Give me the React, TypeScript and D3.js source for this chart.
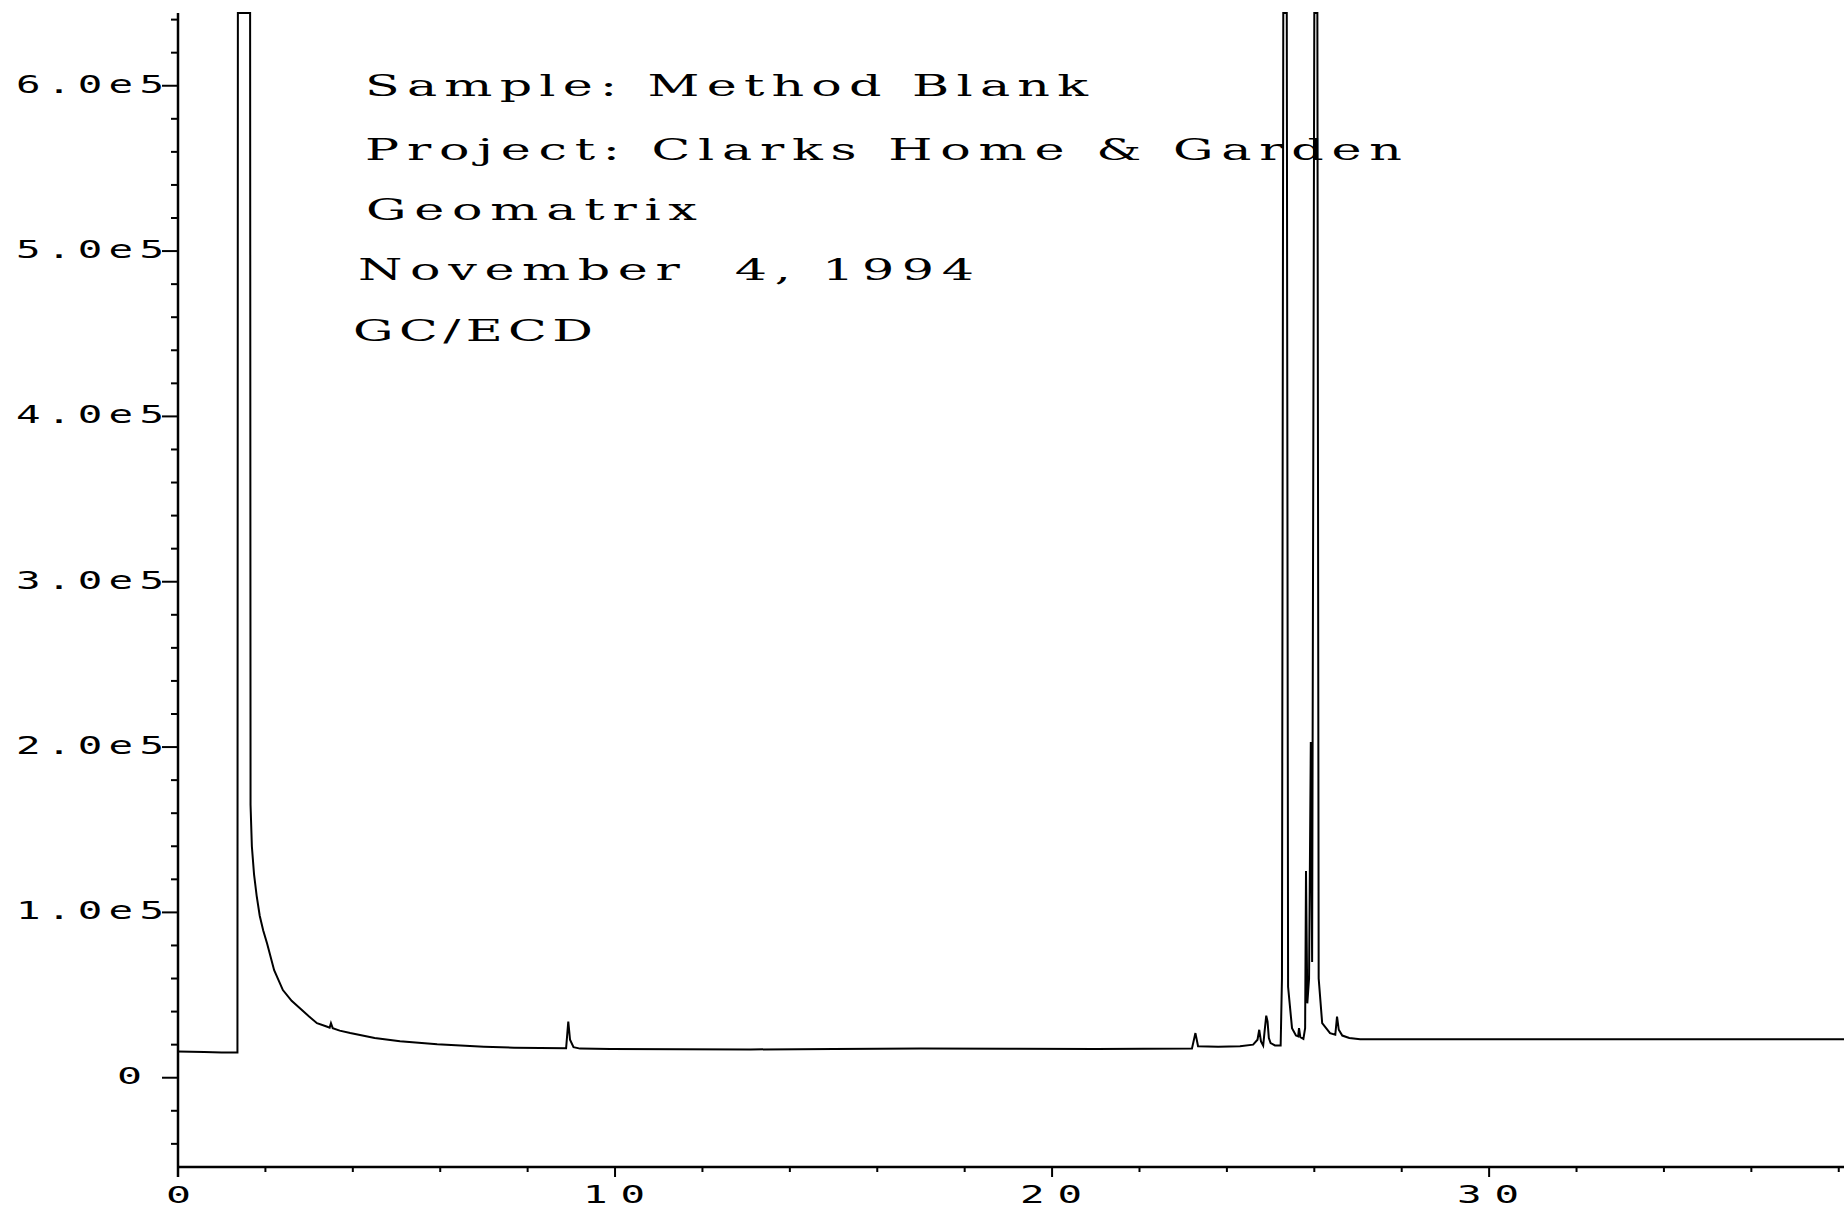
import React from "react";
import * as d3 from "d3";

// chromatogram trace (retention time in min, detector counts)
// values above the top of the plot are offscale, they get clamped flat like the plotter did
const retentionTimes = [
  0.0, 0.6, 1.0, 1.36, 1.37, 1.65, 1.66, 1.69, 1.74, 1.8, 1.87, 1.95, 2.04, 2.2, 2.4, 2.6, 2.79,
  3.0, 3.18, 3.4, 3.47, 3.5, 3.54, 3.7, 3.94, 4.5, 5.08, 5.93, 7.0, 7.69, 8.88, 8.93, 8.97,
  9.05, 9.2, 9.89, 11.5, 13.1, 15.0, 17.0, 19.0, 21.0, 23.2, 23.28, 23.34, 23.8, 24.3, 24.6,
  24.7, 24.74, 24.78, 24.83, 24.87, 24.9, 24.93, 24.96, 25.0, 25.1, 25.23, 25.26, 25.29,
  25.37, 25.4, 25.49, 25.58, 25.63, 25.65, 25.68, 25.75, 25.79, 25.81, 25.84, 25.88, 25.92,
  25.95, 26.0, 26.07, 26.1, 26.18, 26.36, 26.48, 26.52, 26.56, 26.64, 26.8, 27.05, 30.0,
  34.0, 38.2,
];
const detectorSignal = [
  15800, 15600, 15300, 15200, 900000, 900000, 165000, 140000, 123000, 110000, 98000, 89000, 81000,
  65000, 53000, 46500, 42000, 37000, 33000, 31000, 30300, 33000, 30000, 28500, 27000, 24000,
  22000, 20200, 18800, 18200, 17800, 34000, 23000, 18500, 17600, 17400, 17200, 17100, 17400,
  17600, 17500, 17300, 17600, 27000, 19000, 18800, 19000, 20000, 23000, 29000, 22000, 19500,
  30000, 37500, 34000, 24000, 21000, 19500, 19500, 60000, 900000, 900000, 55000, 30000,
  25500, 25000, 30000, 24500, 23500, 30000, 125000, 45000, 60000, 203000, 70000, 900000,
  900000, 60000, 33000, 27000, 26000, 37000, 29000, 25500, 24000, 23200, 23200, 23300, 23300,
];

const yMajorTicks = [0, 100000, 200000, 300000, 400000, 500000, 600000];
const yTickLabels = ["0", "1.0e5", "2.0e5", "3.0e5", "4.0e5", "5.0e5", "6.0e5"];
const xMajorTicks = [0, 10, 20, 30];
const xTickLabels = ["0", "10", "20", "30"];

const headerLines = [
  "Sample: Method Blank",
  "Project: Clarks Home & Garden",
  "Geomatrix",
  "November  4, 1994",
  "GC/ECD",
];
// where each header line sits and how wide it runs
const headerX = [365, 365, 366, 358, 353];
const headerY = [96, 160, 220, 280, 341];
const headerWidth = [723, 1037, 331, 616, 240];

const W = 1844;
const H = 1213;
const left = 178;
const top = 13;
const bottom = 1167;

const numFont = "'DejaVu Sans Mono', monospace";
const NUM_SX = 1.7; // plotter digits are wide and squat
const HEAD_SX = 1.75;

// one stretched label, anchored at its left edge
function WideText(props: {
  x: number;
  y: number;
  sx: number;
  width: number;
  size: number;
  font: string;
  adjust: string;
  children: string;
}) {
  const { x, y, sx, width, size, font, adjust, children } = props;
  return (
    <g transform={`translate(${x}, ${y}) scale(${sx}, 1)`}>
      <text
        x={0}
        y={0}
        fontFamily={font}
        fontSize={size}
        textLength={width / sx}
        lengthAdjust={adjust}
        style={{ whiteSpace: "pre" }}
      >
        {children}
      </text>
    </g>
  );
}

export default function App() {
  const x = d3.scaleLinear().domain([0, 38.12]).range([left, W]);
  const y = d3.scaleLinear().domain([-54000, 644000]).range([bottom, top]).clamp(true);

  const yMinor = d3.range(-40000, 650000, 20000).filter((v) => v % 100000 !== 0);
  const xMinor = d3.range(2, 39, 2).filter((v) => v % 10 !== 0);

  const path = d3
    .line<number>()
    .x((d, i) => x(retentionTimes[i]))
    .y((d) => y(d))(detectorSignal);

  return (
    <svg
      width={W}
      height={H}
      style={{ position: "absolute", left: 0, top: 0, display: "block", background: "#fff" }}
    >
      <defs>
        <clipPath id="plot">
          <rect x={left} y={top - 1} width={W - left} height={bottom - top + 1} />
        </clipPath>
      </defs>

      {/* trace */}
      <path d={path || ""} fill="none" stroke="#000" strokeWidth={2} clipPath="url(#plot)" />

      {/* y axis */}
      <line x1={left} x2={left} y1={top} y2={bottom + 10} stroke="#000" strokeWidth={2.5} />
      {yMinor.map((v) => (
        <line key={"ym" + v} x1={left - 7} x2={left} y1={y(v)} y2={y(v)} stroke="#000" strokeWidth={2} />
      ))}
      {yMajorTicks.map((v, i) => (
        <g key={"yM" + v}>
          <line x1={left - 16} x2={left} y1={y(v)} y2={y(v)} stroke="#000" strokeWidth={2} />
          {yTickLabels[i] === "0" ? (
            <WideText x={117} y={y(v) + 6} sx={NUM_SX} width={25} size={23} font={numFont} adjust="spacingAndGlyphs">
              {yTickLabels[i]}
            </WideText>
          ) : (
            <WideText x={16} y={y(v) + 7} sx={NUM_SX} width={148} size={24} font={numFont} adjust="spacing">
              {yTickLabels[i]}
            </WideText>
          )}
        </g>
      ))}

      {/* x axis */}
      <line x1={left} x2={W} y1={bottom} y2={bottom} stroke="#000" strokeWidth={2.5} />
      {xMinor.map((v) => (
        <line key={"xm" + v} x1={x(v)} x2={x(v)} y1={bottom} y2={bottom + 5} stroke="#000" strokeWidth={2} />
      ))}
      {xMajorTicks.map((v, i) => (
        <g key={"xM" + v}>
          <line x1={x(v)} x2={x(v)} y1={bottom} y2={bottom + 10} stroke="#000" strokeWidth={2} />
          {xTickLabels[i].length === 1 ? (
            <WideText x={x(v) - 12} y={1203} sx={NUM_SX} width={25} size={23} font={numFont} adjust="spacingAndGlyphs">
              {xTickLabels[i]}
            </WideText>
          ) : (
            <WideText x={x(v) - 32} y={1203} sx={NUM_SX} width={62} size={24} font={numFont} adjust="spacing">
              {xTickLabels[i]}
            </WideText>
          )}
        </g>
      ))}

      {/* header text */}
      {headerLines.map((t, i) => (
        <WideText
          key={t}
          x={headerX[i]}
          y={headerY[i]}
          sx={HEAD_SX}
          width={headerWidth[i]}
          size={29}
          font="'DejaVu Serif', 'Liberation Serif', serif"
          adjust="spacing"
        >
          {t}
        </WideText>
      ))}
    </svg>
  );
}
